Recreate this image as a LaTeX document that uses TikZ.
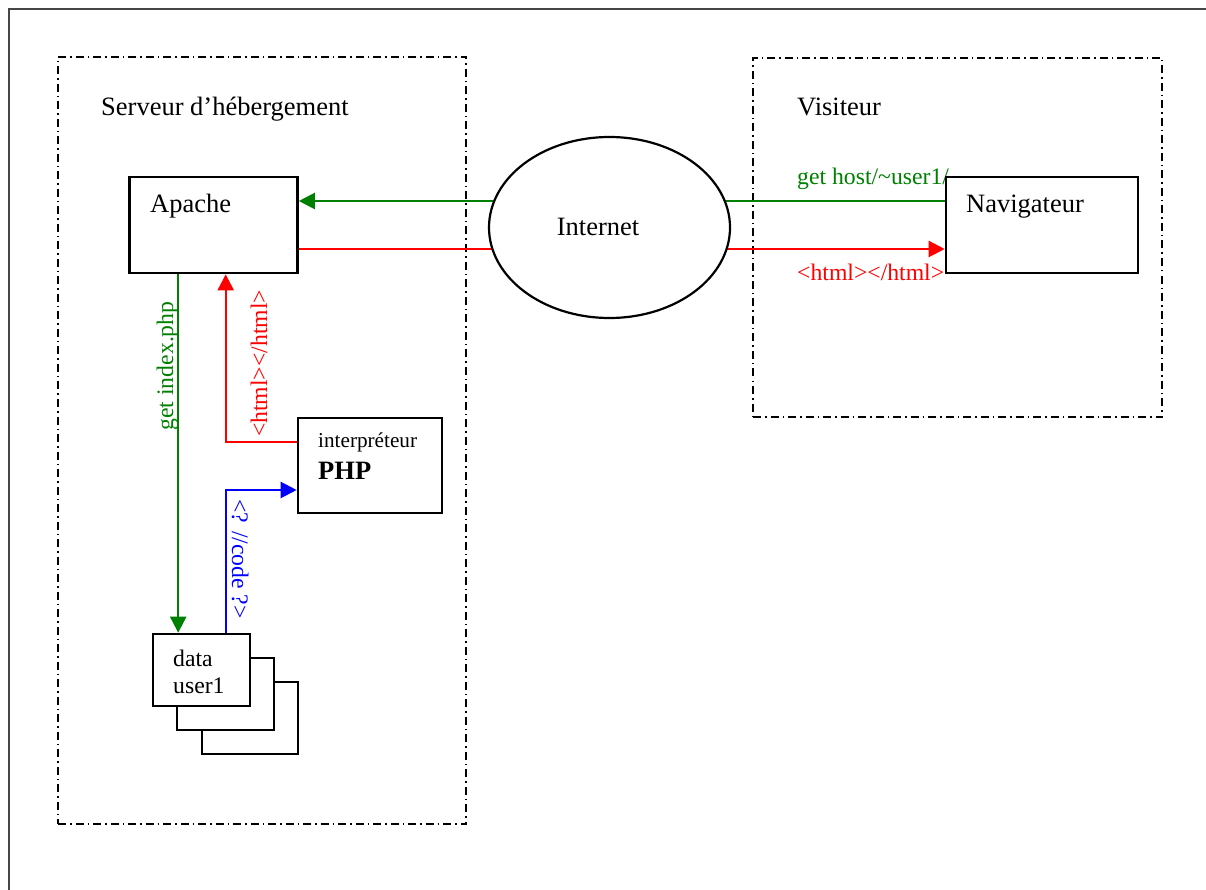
\documentclass[tikz,border=0pt]{standalone}
\usepackage{fontspec}
\setmainfont{Liberation Serif}
\usetikzlibrary{arrows.meta,shapes.geometric,calc}
\definecolor{dgreen}{RGB}{0,128,0}
\definecolor{framegray}{RGB}{70,70,70}
\begin{document}
\begin{tikzpicture}[x=1pt,y=-1pt,
  box/.style={draw,line width=2.6pt,fill=white,inner sep=0pt},
  zone/.style={draw,line width=2pt,dash pattern=on 8pt off 4pt on 1.5pt off 4pt,inner sep=0pt},
  big/.style={font=\fontsize{26.5}{30}\selectfont,inner sep=0pt},
  lbl/.style={font=\fontsize{23.7}{27}\selectfont,inner sep=0pt},
  small/.style={font=\fontsize{21.2}{25}\selectfont,inner sep=0pt},
  conn/.style={line width=2.2pt,-{Triangle[length=16pt,width=16pt]}}]
\useasboundingbox (0,0) rectangle (1206,890);
\draw[framegray,line width=1.8pt] (9,890) -- (9,9) -- (1206,9);

% zones
\node[zone,minimum width=408pt,minimum height=767pt] (server) at (262,440.5) {};
\node[zone,minimum width=409pt,minimum height=359pt] (visitor) at (957.5,237.5) {};
\node[big,anchor=base west] (srvlabel) at (101,116) {Serveur d’hébergement};
\node[big,anchor=base west] (vislabel) at (797,116) {Visiteur};

% labels of horizontal connectors
\node[lbl,text=dgreen,anchor=base west] (getlbl) at (797,185) {get host/{\char"007E}user1/};
\node[lbl,text=red,anchor=base west] (htmllbl) at (797,280) {<html></html>};

% boxes
\node[box,minimum width=168pt,minimum height=96pt] (apache) at (213.5,225) {};
\node[big,anchor=base west] (apachetxt) at (150,213) {Apache};
\node[box,minimum width=192pt,minimum height=96pt] (nav) at (1042,225) {};
\node[big,anchor=base west] (navtxt) at (966,213) {Navigateur};
\node[box,minimum width=144pt,minimum height=95pt] (php) at (370,465.5) {};
\node[small,anchor=base west] (phptxt1) at (318,447) {interpréteur};
\node[big,anchor=base west] (phptxt2) at (318,479) {\bfseries PHP};

\node[box,minimum width=96pt,minimum height=72pt] (data3) at (250,718) {};
\node[box,minimum width=97pt,minimum height=72pt] (data2) at (225.5,694) {};
\node[box,minimum width=97pt,minimum height=72pt] (data1) at (201.5,670) {};
\node[lbl,anchor=base west] (datatxt1) at (173,666) {data};
\node[lbl,anchor=base west] (datatxt2) at (173,693) {user1};

% horizontal connectors (ellipse drawn on top)
\draw[conn,dgreen] ([yshift=24pt]nav.west) -- ([yshift=24pt]apache.east);
\draw[conn,red] ([yshift=-24pt]apache.east) -- ([yshift=-24pt]nav.west);
\node[draw,ellipse,line width=2.2pt,fill=white,minimum width=241pt,minimum height=181pt,inner sep=0pt] (inet) at (609.5,227.5) {};
\node[big,anchor=base] (inettxt) at (598,236) {Internet};

% vertical connectors
\coordinate (g1) at ([xshift=50pt]apache.south west);
\draw[conn,dgreen] (g1) -- (g1 |- data1.north);
\coordinate (r1) at ([yshift=23.5pt]php.west);
\coordinate (r2) at ([xshift=97.5pt]apache.south west);
\draw[conn,red] (r1) -| (r2);
\coordinate (b1) at ([xshift=74pt]data1.north west);
\coordinate (b2) at ([yshift=-24.5pt]php.west);
\draw[conn,blue] (b1) |- (b2);

\node[lbl,text=dgreen,rotate=90,anchor=base] (idxlbl) at (173,366) {get index.php};
\node[lbl,text=red,rotate=90,anchor=base] (htmlv) at (267,363.5) {<html></html>};
\node[lbl,text=blue,rotate=-90,anchor=base] (codelbl) at (232,559) {<? //code ?>};
\end{tikzpicture}
\end{document}
